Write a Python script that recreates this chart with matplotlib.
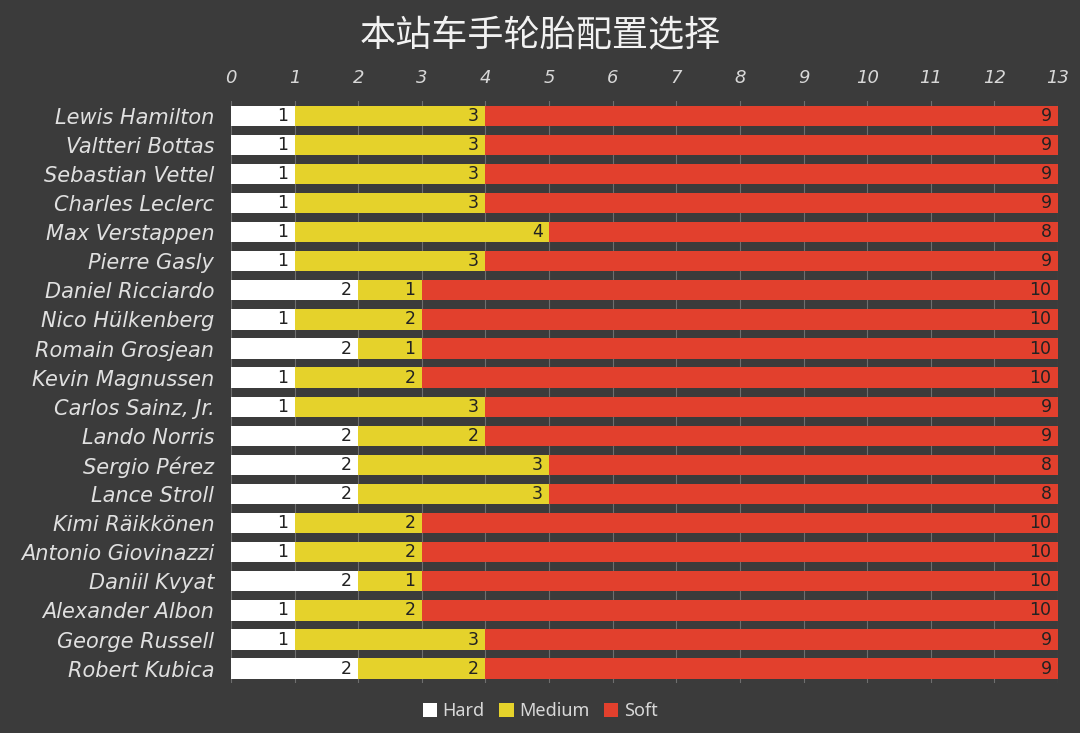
import matplotlib
matplotlib.use("Agg")
import matplotlib.pyplot as plt
from matplotlib.patches import Patch
import numpy as np

# driver tyre allocation (hard / medium / soft sets)
drivers = ['Lewis Hamilton', 'Valtteri Bottas', 'Sebastian Vettel', 'Charles Leclerc',
           'Max Verstappen', 'Pierre Gasly', 'Daniel Ricciardo', 'Nico Hülkenberg',
           'Romain Grosjean', 'Kevin Magnussen', 'Carlos Sainz, Jr.', 'Lando Norris',
           'Sergio Pérez', 'Lance Stroll', 'Kimi Räikkönen', 'Antonio Giovinazzi',
           'Daniil Kvyat', 'Alexander Albon', 'George Russell', 'Robert Kubica']
hard = [1, 1, 1, 1, 1, 1, 2, 1, 2, 1, 1, 2, 2, 2, 1, 1, 2, 1, 1, 2]
medium = [3, 3, 3, 3, 4, 3, 1, 2, 1, 2, 3, 2, 3, 3, 2, 2, 1, 2, 3, 2]
soft = [9, 9, 9, 9, 8, 9, 10, 10, 10, 10, 9, 9, 8, 8, 10, 10, 10, 10, 9, 9]
series = ['Hard', 'Medium', 'Soft']
x_ticks = list(range(0, 14))

bg = '#3b3b3b'
colors = ['#ffffff', '#e5d22b', '#e2402d']

fig = plt.figure(figsize=(10.8, 7.33), dpi=100, facecolor=bg)
ax = fig.add_axes([0.2139, 0.068, 0.7657, 0.794])
ax.set_facecolor(bg)

y = np.arange(len(drivers))
left = np.zeros(len(drivers))
for vals, col in zip([hard, medium, soft], colors):
    vals = np.array(vals)
    ax.barh(y, vals, left=left, height=0.7, color=col, zorder=3)
    for yi, (l, v) in enumerate(zip(left, vals)):
        ax.text(l + v - 0.1, yi, str(v), ha='right', va='center',
                fontsize=12.5, color='#222222', family='DejaVu Sans', zorder=4)
    left = left + vals

ax.set_xlim(0, 13)
ax.set_ylim(len(drivers) - 0.5, -0.5)
ax.set_xticks(x_ticks)
ax.xaxis.tick_top()
ax.set_xticklabels([str(t) for t in x_ticks], fontsize=13, style='italic', color='#d8d8d8')
ax.set_yticks(y)
ax.set_yticklabels(drivers, fontsize=15, style='italic', color='#e0e0e0')
ax.tick_params(axis='x', length=0, pad=10)
ax.tick_params(axis='y', length=0, pad=12)
ax.grid(axis='x', color='#6e6e6e', linewidth=0.8, zorder=0)
for s in ax.spines.values():
    s.set_visible(False)

fig.text(0.5, 0.950, '本站车手轮胎配置选择', ha='center', va='center',
         fontsize=26, color='#f2f2f2', family=['Noto Sans CJK SC', 'DejaVu Sans'])

handles = [Patch(facecolor=c, edgecolor='none', label=s) for s, c in zip(series, colors)]
leg = fig.legend(handles=handles, loc='center', bbox_to_anchor=(0.5, 0.03), ncol=3,
                 frameon=False, handlelength=0.8, handleheight=0.8,
                 handletextpad=0.3, columnspacing=0.8,
                 prop={'family': 'Noto Sans', 'size': 13})
for t in leg.get_texts():
    t.set_color('#d8d8d8')

fig.savefig('out.png', dpi=100, facecolor=bg)
